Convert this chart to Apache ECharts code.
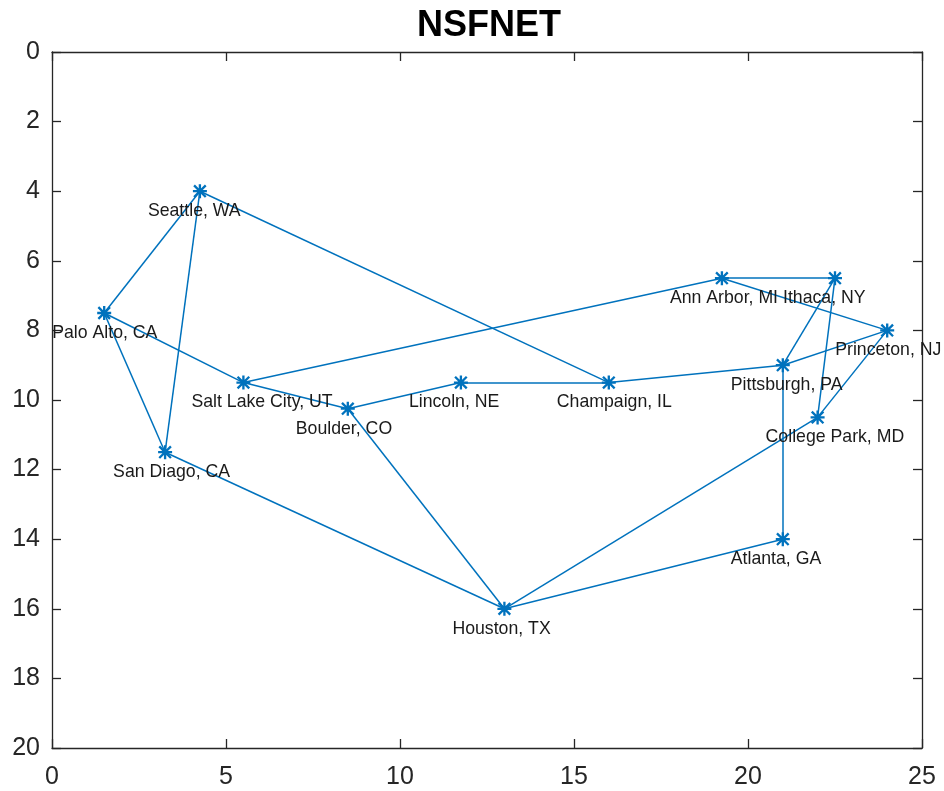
<!DOCTYPE html>
<html>
<head>
<meta charset="utf-8">
<script src="https://cdn.jsdelivr.net/npm/echarts@6/dist/echarts.min.js"></script>
<style>
  html, body { margin: 0; padding: 0; background: #fff; }
  #chart { width: 944px; height: 791px; }
</style>
</head>
<body>
<div id="chart"></div>
<script>
// Node names and coordinates
const nodeNames = [
  'Seattle, WA', 'Palo Alto, CA', 'San Diago, CA', 'Salt Lake City, UT',
  'Boulder, CO', 'Lincoln, NE', 'Champaign, IL', 'Houston, TX',
  'Ann Arbor, MI', 'Ithaca, NY', 'Princeton, NJ', 'Pittsburgh, PA',
  'College Park, MD', 'Atlanta, GA'
];
const nodeX = [4.25, 1.5, 3.25, 5.5, 8.5, 11.75, 16, 13, 19.25, 22.5, 24, 21, 22, 21];
const nodeY = [4, 7.5, 11.5, 9.5, 10.25, 9.5, 9.5, 16, 6.5, 6.5, 8, 9, 10.5, 14];
// Edges (indices into nodeNames)
const edgeSource = [0, 0, 0, 1, 1, 2, 3, 3, 4, 4, 5, 6, 7, 7, 8, 8, 9, 9, 11, 11, 10];
const edgeTarget = [1, 2, 6, 2, 3, 7, 4, 8, 5, 7, 6, 11, 12, 13, 9, 10, 11, 12, 13, 10, 12];
const xTicks = [0, 5, 10, 15, 20, 25];
const yTicks = [0, 2, 4, 6, 8, 10, 12, 14, 16, 18, 20];
const chartTitle = 'NSFNET';

const blue = '#0072BD';
const axisColor = '#262626';
const asterisk = 'path://M5.0 0 h2.0 v12 h-2.0 Z M0 5.0 h12 v2.0 h-12 Z ' +
  'M0.3 1.7 L1.7 0.3 L11.7 10.3 L10.3 11.7 Z ' +
  'M10.3 0.3 L11.7 1.7 L1.7 11.7 L0.3 10.3 Z';

const nodes = nodeNames.map((n, i) => ({ name: n, value: [nodeX[i], nodeY[i]] }));
const links = edgeSource.map((s, i) => ({ source: nodeNames[s], target: nodeNames[edgeTarget[i]] }));

const chart = echarts.init(document.getElementById('chart'));

const baseAxis = {
  type: 'value',
  axisLine: { show: true, onZero: false, lineStyle: { color: axisColor, width: 1.3 } },
  axisTick: { show: true, inside: true, length: 9, lineStyle: { color: axisColor, width: 1.3 } },
  splitLine: { show: false },
};

chart.setOption({
  animation: false,
  backgroundColor: '#fff',
  title: {
    text: chartTitle,
    left: 417,
    top: 8,
    padding: 0,
    textStyle: { fontFamily: 'Liberation Sans, Arial, sans-serif', fontWeight: 'bold', fontSize: 36, color: '#000' }
  },
  grid: { left: 52, right: 22, top: 52, bottom: 43 },
  xAxis: [
    Object.assign({}, baseAxis, {
      position: 'bottom', min: 0, max: 25, interval: 5,
      axisLabel: { show: true, color: axisColor, fontSize: 25, margin: 17, fontFamily: 'Liberation Sans, Arial, sans-serif',
        formatter: v => xTicks.includes(v) ? String(v) : '' }
    }),
    Object.assign({}, baseAxis, {
      position: 'top', min: 0, max: 25, interval: 5, axisLabel: { show: false }
    })
  ],
  yAxis: [
    Object.assign({}, baseAxis, {
      position: 'left', min: 0, max: 20, interval: 2, inverse: true,
      axisLabel: { show: true, color: axisColor, fontSize: 25, margin: 12, fontFamily: 'Liberation Sans, Arial, sans-serif',
        formatter: v => yTicks.includes(v) ? String(v) : '' }
    }),
    Object.assign({}, baseAxis, {
      position: 'right', min: 0, max: 20, interval: 2, inverse: true, axisLabel: { show: false }
    })
  ],
  series: [{
    type: 'graph',
    coordinateSystem: 'cartesian2d',
    xAxisIndex: 0,
    yAxisIndex: 0,
    data: nodes,
    links: links,
    symbol: asterisk,
    symbolSize: 14,
    itemStyle: { color: blue },
    lineStyle: { color: blue, width: 1.5, opacity: 1, curveness: 0 },
    label: {
      show: true,
      position: 'inside',
      align: 'left',
      verticalAlign: 'middle',
      offset: [-52, 20],
      color: '#1a1a1a',
      fontSize: 17.7,
      fontFamily: 'Liberation Sans, Arial, sans-serif'
    },
    emphasis: { disabled: true },
    z: 3
  }]
});
</script>
</body>
</html>
